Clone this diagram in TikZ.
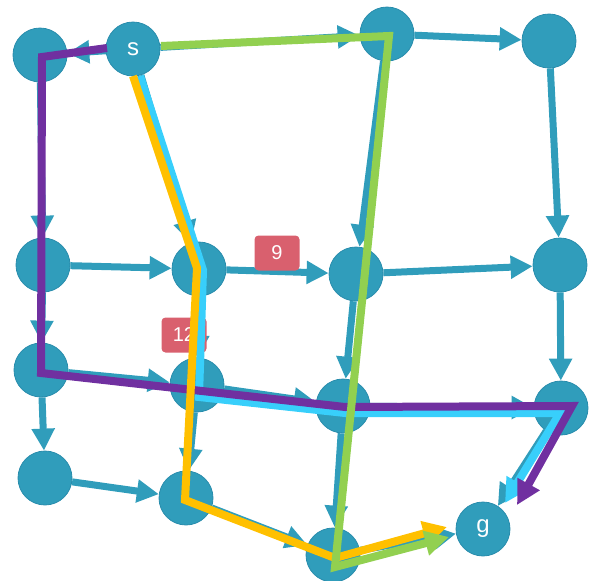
\documentclass[tikz,border=0pt]{standalone}
\usepackage{fontspec}
\setmainfont{Liberation Sans}
\usetikzlibrary{arrows.meta}
\definecolor{nodeblue}{RGB}{48,157,187}
\definecolor{nodeedge}{RGB}{40,140,172}
\definecolor{pathpurple}{RGB}{112,48,160}
\definecolor{pathcyan}{RGB}{56,207,251}
\definecolor{pathyellow}{RGB}{255,192,0}
\definecolor{pathgreen}{RGB}{146,208,80}
\definecolor{labelred}{RGB}{217,96,110}
\begin{document}
\begin{tikzpicture}[x=1pt,y=-1pt,
 vtx/.style={circle,fill=nodeblue,draw=nodeedge,line width=0.8pt,minimum size=54pt,inner sep=0pt,text=white,font=\fontsize{24}{24}\selectfont},
 edge/.style={draw=nodeblue,line width=7pt,-{Triangle[length=22pt,width=22pt]}},
 wlabel/.style={fill=labelred,rounded corners=4pt,minimum width=45pt,minimum height=35pt,inner sep=0pt,text=white,font=\fontsize{20}{20}\selectfont},
 route/.style={line width=8pt,-{Triangle[length=24pt,width=24pt]}}
]
\useasboundingbox (0,0) rectangle (590,581);
% vertices
\node[vtx] (A) at (40,55) {};
\node[vtx] (s) at (133,49) {s};
\node[vtx] (B) at (387,34) {};
\node[vtx] (C) at (549,41) {};
\node[vtx] (D) at (43,265) {};
\node[vtx] (E) at (199,269) {};
\node[vtx] (F) at (356,274) {};
\node[vtx] (G) at (560,265) {};
\node[vtx] (H) at (41,370) {};
\node[vtx] (I) at (197,385) {};
\node[vtx] (J) at (343,406) {};
\node[vtx] (K) at (561,408) {};
\node[vtx] (L) at (45,478) {};
\node[vtx] (M) at (186,498) {};
\node[vtx] (N) at (333,555) {};
\node[vtx] (g) at (483,529) {g};
% edges
\foreach \a/\b in {s/A,s/B,B/C,C/G,A/D,s/E,B/F,D/E,E/F,F/G,D/H,E/I,F/J,G/K,H/I,I/J,J/K,H/L,I/M,L/M,M/N,J/N,K/g,N/g}
  \draw[edge] (\a) -- (\b);
% weight labels
\node[wlabel] (w9) at (277,253) {9};
\node[wlabel] (w12) at (184,335) {12};
% route points
\coordinate (c0) at (140,76);
\coordinate (c1) at (203,270);
\coordinate (c2) at (199,397);
\coordinate (c3) at (345,413);
\coordinate (c4) at (560,413);
\coordinate (c5) at (505,503);
\coordinate (p0) at (107,48);
\coordinate (p1) at (42,57);
\coordinate (p2) at (41,373);
\coordinate (p3) at (345,407);
\coordinate (p4) at (572,406);
\coordinate (p5) at (517,505);
\coordinate (y0) at (133,76);
\coordinate (y1) at (197,268);
\coordinate (y2) at (185,500);
\coordinate (y3) at (335,558);
\coordinate (y4) at (447,527);
\coordinate (q0) at (161,46);
\coordinate (q1) at (389,36);
\coordinate (q2) at (335,567);
\coordinate (q3) at (449,537);
% routes
\draw[route,pathcyan] (c0) -- (c1) -- (c2) -- (c3) -- (c4) -- (c5);
\draw[route,pathpurple] (p0) -- (p1) -- (p2) -- (p3) -- (p4) -- (p5);
\draw[route,pathyellow] (y0) -- (y1) -- (y2) -- (y3) -- (y4);
\draw[route,pathgreen] (q0) -- (q1) -- (q2) -- (q3);
\end{tikzpicture}
\end{document}
